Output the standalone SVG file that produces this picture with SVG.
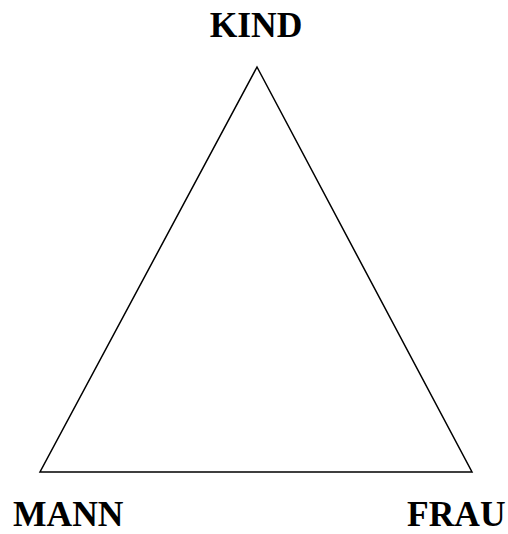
<svg xmlns="http://www.w3.org/2000/svg" width="508" height="534" viewBox="0 0 508 534">
<style>
.lbl{font-family:"Liberation Serif","Times New Roman",serif;font-weight:bold;font-size:35.5px;fill:#000}
.edge{stroke:#000;stroke-width:1.5;fill:none}
</style>
<rect width="508" height="534" fill="#fff"/>
<g id="connectors">
<path class="edge" d="M257,67 L40,472 L472,472 Z"/>
</g>
<g id="kind"><text class="lbl" x="256" y="37" text-anchor="middle">KIND</text></g>
<g id="mann"><text class="lbl" x="13" y="526">MANN</text></g>
<g id="frau"><text class="lbl" x="407" y="526">FRAU</text></g>
</svg>
